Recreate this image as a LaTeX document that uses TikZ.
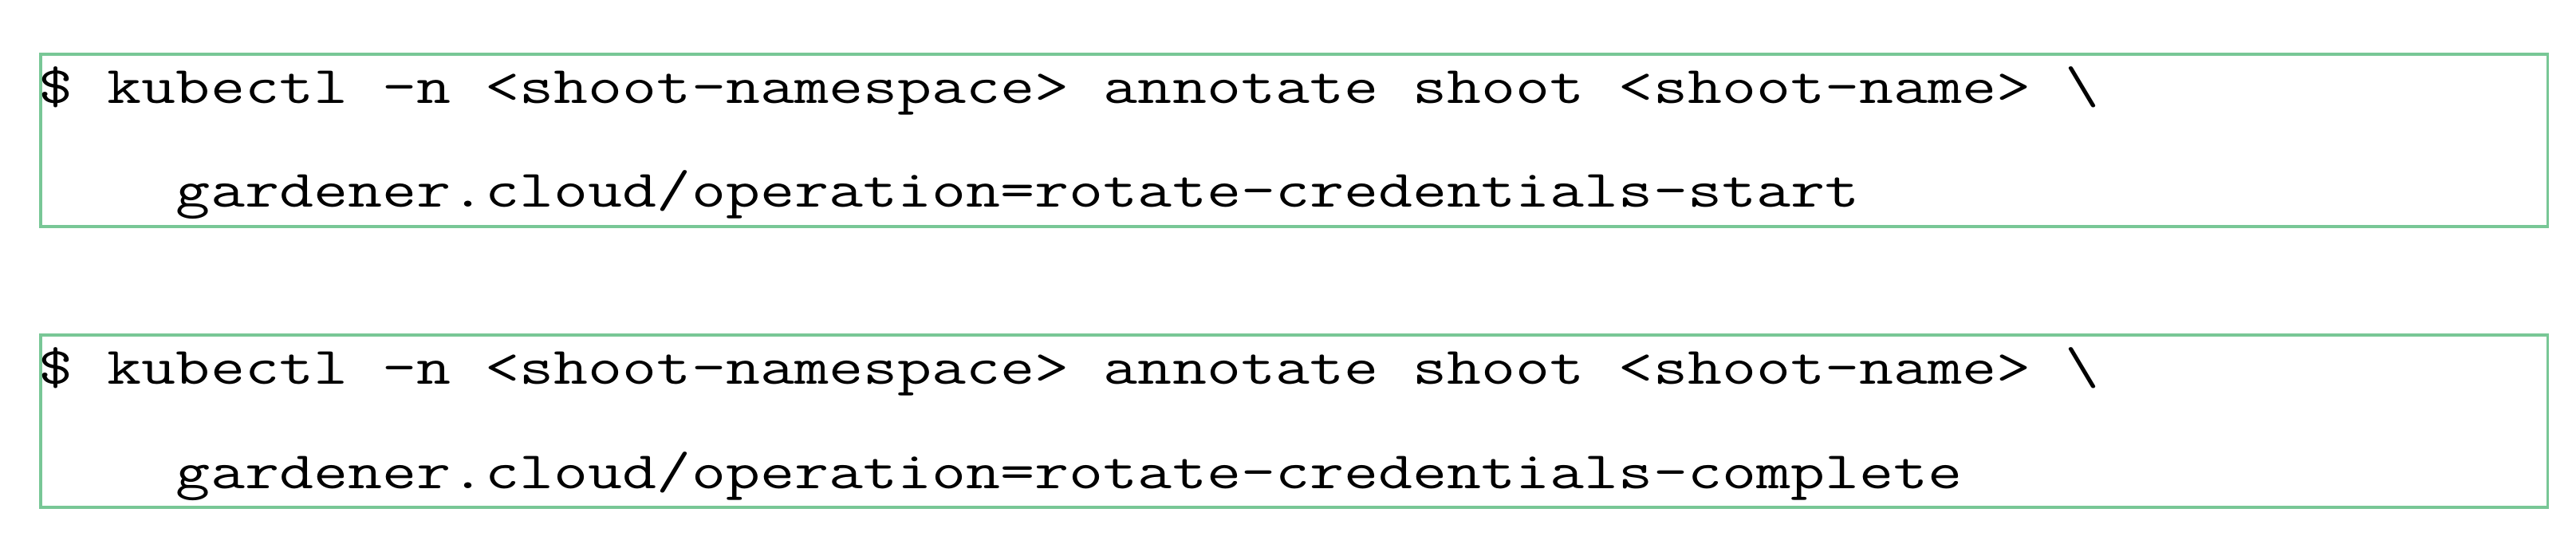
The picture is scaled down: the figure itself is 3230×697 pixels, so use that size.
\documentclass[tikz,border=0pt]{standalone}
\usepackage{fontspec}
\newfontfamily\cmdfont[FakeStretch=1.265]{Latin Modern Mono}
\definecolor{boxgreen}{RGB}{120,199,150}
\tikzset{
  cmdbox/.style={draw=boxgreen, line width=0.035cm, inner sep=0pt, anchor=north west,
    minimum width=31.42cm, minimum height=2.16cm},
  cmdtext/.style={inner sep=0pt, anchor=base west, text=black,
    font=\cmdfont\fontsize{18.8pt}{22pt}\selectfont}
}
\begin{document}
\begin{tikzpicture}[x=0.01cm,y=-0.01cm]
\useasboundingbox (0,0) rectangle (3230,697);
\node[cmdbox] (box1) at (49,66) {};
\node[cmdbox] (box2) at (49,418) {};
\node[cmdtext] (l1a) at (48,129) {\$ kubectl -n <shoot-namespace> annotate shoot <shoot-name> \textbackslash};
\node[cmdtext] (l1b) at (48,259) {\phantom{0000}gardener.cloud/operation=rotate-credentials-start};
\node[cmdtext] (l2a) at (48,481) {\$ kubectl -n <shoot-namespace> annotate shoot <shoot-name> \textbackslash};
\node[cmdtext] (l2b) at (48,612) {\phantom{0000}gardener.cloud/operation=rotate-credentials-complete};
\end{tikzpicture}
\end{document}
